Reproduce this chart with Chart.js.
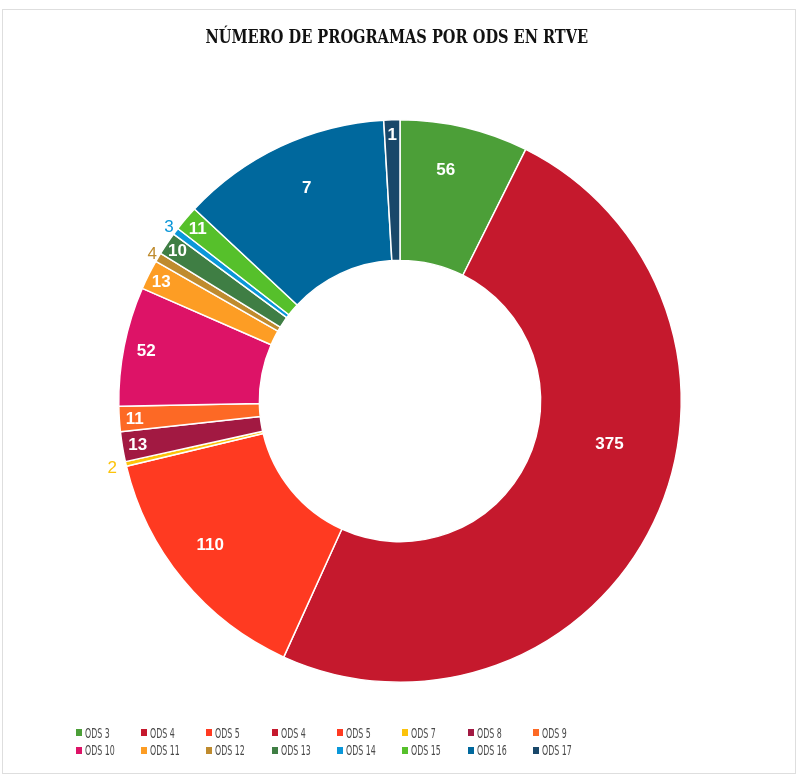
<!DOCTYPE html>
<html>
<head>
<meta charset="utf-8">
<script src="https://cdn.jsdelivr.net/npm/chart.js@4/dist/chart.umd.min.js"></script>
<style>
  html, body { margin:0; padding:0; background:#fff; }
  #wrap { position:relative; width:800px; height:781px; overflow:hidden; }
  #frame { position:absolute; left:2px; top:9px; width:792px; height:763px; border:1px solid #dedede; }
  #c { position:absolute; left:0; top:0; }
  #title { position:absolute; left:0; top:27px; width:793px; text-align:center; }
  #title span { display:inline-block; white-space:nowrap;
    font-family:"DejaVu Serif Condensed","DejaVu Serif",serif; font-weight:bold; font-size:18px; line-height:20px; color:#111; }
  .lg { position:absolute; height:14px; line-height:14px; white-space:nowrap;
    font-family:"Liberation Sans Narrow","DejaVu Sans Condensed",sans-serif; font-size:14px; color:#4a4a4a; }
  .lg i { position:absolute; left:0; top:3.5px; width:6px; height:7px; }
  .lg span { position:absolute; left:9px; top:0; transform-origin:0 50%; }
</style>
</head>
<body>
<div id="wrap">
  <div id="frame"></div>
  <canvas id="c" width="800" height="781"></canvas>
  <div id="title"><span>NÚMERO DE PROGRAMAS POR ODS EN RTVE</span></div>
  <div id="legend"></div>
</div>
<script>
// ---- data ----
const categories = ['ODS 3','ODS 4','ODS 5','ODS 4','ODS 5','ODS 7','ODS 8','ODS 9','ODS 10','ODS 11','ODS 12','ODS 13','ODS 14','ODS 15','ODS 16','ODS 17'];
const sliceValues = [56, 375, 110, 0, 0, 2, 13, 11, 52, 13, 4, 10, 3, 11, 92, 7];
const valueLabels = ['56','375','110','','','2','13','11','52','13','4','10','3','11','7','1'];
const sliceColors = ['#4C9F38','#C5192D','#FF3A21','#C5192D','#FF3A21','#FCC30B','#A21942','#FD6925','#DD1367','#FD9D24','#BF8B2E','#3F7E44','#0A97D9','#56C02B','#00689D','#19486A'];
// label placement styles: radial fraction of ring thickness (>1 = outside) and angular shift as fraction of slice span
const labelRadialPos = [0.68,0.52,0.69,0,0,1.1,0.89,0.89,0.84,0.9,1.05,0.91,1.06,0.89,0.66,0.9];
const labelAngleShift = [-0.08,-0.079,0.048,0,0,0,0,0,0,0,0,0,0,0,0.037,0];

const labelPlugin = {
  id: 'sliceLabels',
  afterDatasetsDraw(chart) {
    const ctx = chart.ctx;
    const meta = chart.getDatasetMeta(0);
    meta.data.forEach((arc, i) => {
      const txt = valueLabels[i];
      if (!txt) return;
      const p = arc.getProps(['x','y','startAngle','endAngle','innerRadius','outerRadius'], true);
      const span = p.endAngle - p.startAngle;
      const mid = (p.startAngle + p.endAngle) / 2 + labelAngleShift[i] * span;
      const f = labelRadialPos[i];
      const r = p.innerRadius + f * (p.outerRadius - p.innerRadius);
      const x = p.x + r * Math.cos(mid);
      const y = p.y + r * Math.sin(mid);
      ctx.save();
      ctx.textAlign = 'center';
      ctx.textBaseline = 'middle';
      if (f > 1) {
        ctx.fillStyle = sliceColors[i];
        ctx.font = '17px "Liberation Sans", Arial, sans-serif';
      } else {
        ctx.fillStyle = '#ffffff';
        ctx.font = 'bold 17px "Liberation Sans", Arial, sans-serif';
      }
      ctx.fillText(txt, x, y + 1);
      ctx.restore();
    });
  }
};

new Chart(document.getElementById('c'), {
  type: 'doughnut',
  data: {
    labels: categories,
    datasets: [{
      data: sliceValues,
      backgroundColor: sliceColors,
      borderColor: '#ffffff',
      borderWidth: (c) => (sliceValues[c.dataIndex] === 0 ? 0 : 1.5)
    }]
  },
  options: {
    responsive: false,
    devicePixelRatio: 1,
    animation: false,
    cutout: '50%',
    layout: { padding: { top: 119, bottom: 98, left: 118, right: 118 } },
    plugins: {
      legend: { display: false },
      title: { display: false },
      tooltip: { enabled: false }
    }
  },
  plugins: [labelPlugin]
});

// title: fit to reference width
const ts = document.querySelector('#title span');
const tw = ts.offsetWidth;
ts.style.transform = 'scaleX(' + (383 / tw) + ')';

// HTML legend built from the same arrays
const lg = document.getElementById('legend');
const spans = [];
categories.forEach((name, i) => {
  const row = Math.floor(i / 8), col = i % 8;
  const d = document.createElement('div');
  d.className = 'lg';
  d.style.left = (75.7 + col * 65.3) + 'px';
  d.style.top = (row ? 743 : 725.7) + 'px';
  d.innerHTML = '<i style="background:' + sliceColors[i] + '"></i><span>' + name + '</span>';
  lg.appendChild(d);
  spans.push(d.querySelector('span'));
});
const sx = 25 / spans[0].offsetWidth;
spans.forEach(s => { s.style.transform = 'scaleX(' + sx + ')'; });
</script>
</body>
</html>
